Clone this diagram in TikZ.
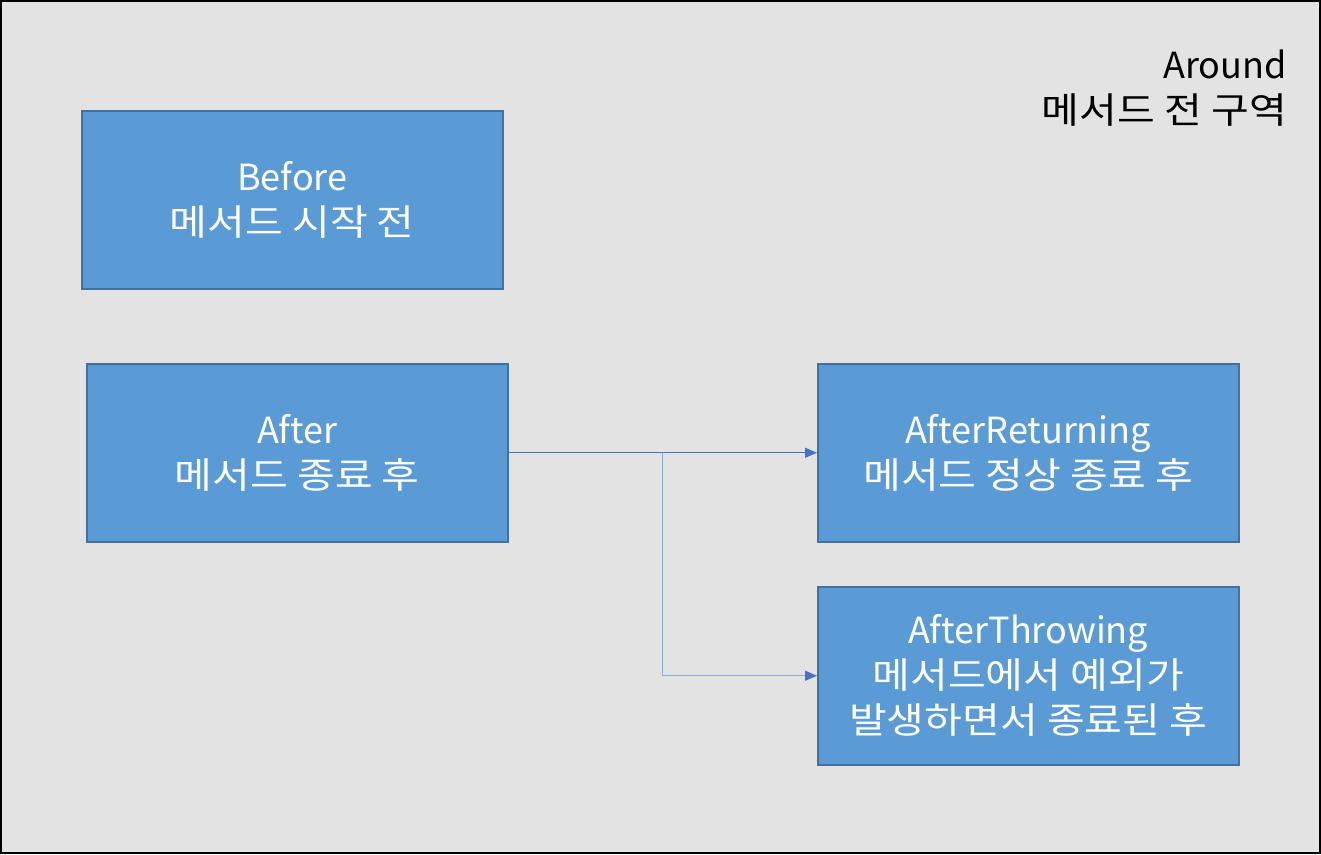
\documentclass[tikz,border=0pt]{standalone}
\usepackage{fontspec}
\setmainfont{Noto Sans CJK KR}
\newfontfamily\kr[FakeStretch=1.14]{Noto Sans CJK KR}
\usetikzlibrary{arrows.meta}
\definecolor{bg}{HTML}{E3E3E3}
\definecolor{boxfill}{HTML}{5B9BD5}
\definecolor{boxline}{HTML}{41719C}
\definecolor{arrA}{HTML}{4472C4}
\definecolor{arrB}{HTML}{8FAADC}
\tikzset{
  box/.style={draw=boxline, line width=1.5pt, fill=boxfill, text=white,
    minimum width=421pt, minimum height=178pt, inner sep=0pt, align=center,
    font=\fontsize{36}{45}\selectfont, anchor=north west},
  conn/.style={line width=1.3pt, -{Triangle[length=12pt,width=10pt,fill=arrA,color=arrA]}}
}
\begin{document}
\begin{tikzpicture}[x=1pt,y=-1pt]
\useasboundingbox (0,0) rectangle (1321,854);
\fill[bg] (0,0) rectangle (1321,854);
\draw[black, line width=2.5pt] (1,1) rectangle (1320,853);
\node[anchor=north east, align=right, font=\fontsize{36}{45}\selectfont, inner sep=0pt] (around) at (1287,50) {Around\\{\kr 메서드 전 구역}};
\node[box] (before) at (81,110) {Before\\{\kr 메서드 시작 전}};
\node[box] (after) at (86,363) {After\\{\kr 메서드 종료 후}};
\node[box] (ret) at (817,363) {AfterReturning\\{\kr 메서드 정상 종료 후}};
\node[box] (thr) at (817,586) {AfterThrowing\\{\kr 메서드에서 예외가}\\{\kr 발생하면서 종료된 후}};
\draw[conn, draw=arrA] (after.east) -- coordinate[pos=0.5] (split) (ret.west);
\draw[conn, draw=arrB] (split) |- (thr.west);
\end{tikzpicture}
\end{document}
